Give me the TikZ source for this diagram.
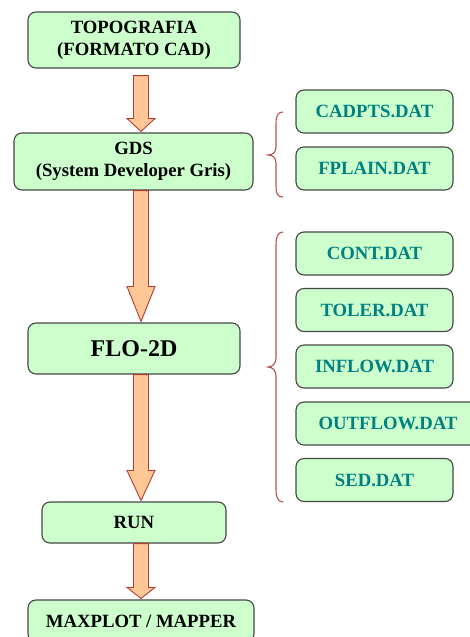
\documentclass[tikz,border=0pt]{standalone}
\usepackage{fontspec}
\setmainfont{Liberation Serif}
\usetikzlibrary{calc}
\definecolor{boxgreen}{RGB}{204,255,204}
\definecolor{boxedge}{RGB}{70,70,70}
\definecolor{arrfill}{RGB}{255,200,150}
\definecolor{arredge}{RGB}{178,60,50}
\definecolor{bracecol}{RGB}{180,80,80}
\definecolor{tealtxt}{RGB}{0,128,128}
\tikzset{
  gbox/.style={draw=boxedge, line width=1.1pt, fill=boxgreen, rounded corners=8pt,
    inner sep=0pt, align=center, font=\fontsize{18.7}{22}\selectfont\bfseries, text=black},
  fbox/.style={gbox, text=tealtxt, minimum width=157pt, minimum height=43pt},
  blockarr/.style={draw=arredge, line width=0.9pt, fill=arrfill, line join=miter},
  bracestyle/.style={draw=bracecol, line width=1.1pt}
}
\newcommand\blockarrow[4]{%
  \draw[blockarr] let \p1=(#1.south), \p2=(#2.north) in
    (133.5pt,{\y1-#4}) -- (133.5pt,{\y2+#3}) -- (127pt,{\y2+#3}) -- (141pt,{\y2+1pt})
    -- (155pt,{\y2+#3}) -- (148.5pt,{\y2+#3}) -- (148.5pt,{\y1-#4}) -- cycle;}
\begin{document}
\begin{tikzpicture}[x=1pt,y=-1pt]
\useasboundingbox (0,0) rectangle (469,637);
\node[gbox, minimum width=212pt, minimum height=56pt] (topo) at (134,40) {TOPOGRAFIA\\(FORMATO CAD)};
\node[gbox, minimum width=239pt, minimum height=57pt] (gds) at (133.5,161.5) {GDS\\(System Developer Gris)};
\node[gbox, minimum width=212pt, minimum height=51pt, font=\fontsize{24}{28}\selectfont\bfseries] (flo) at (134,348.5) {FLO-2D};
\node[gbox, minimum width=184pt, minimum height=41pt] (run) at (134,522.5) {RUN};
\node[gbox, minimum width=226pt, minimum height=42pt] (maxp) at (141,621) {MAXPLOT / MAPPER};

\blockarrow{topo}{gds}{14pt}{7pt}
\blockarrow{gds}{flo}{36pt}{0pt}
\blockarrow{flo}{run}{31pt}{0pt}
\blockarrow{run}{maxp}{12pt}{0pt}

\node[fbox] (cadpts) at (374.5,111.5) {CADPTS.DAT};
\node[fbox] (fplain) at (374.5,168.5) {FPLAIN.DAT};
\node[fbox] (cont) at (374.5,253.5) {CONT.DAT};
\node[fbox] (toler) at (374.5,310) {TOLER.DAT};
\node[fbox] (inflow) at (374.5,366.5) {INFLOW.DAT};
\node[fbox, minimum width=184pt] (outflow) at (388,423.5) {OUTFLOW.DAT};
\node[fbox] (sed) at (374.5,480) {SED.DAT};

\draw[bracestyle] (283,112) .. controls (277,112) and (276,117) .. (276,124)
  -- (276,147) .. controls (276,152) and (273,155) .. (268,155)
  .. controls (273,155) and (276,158) .. (276,163)
  -- (276,186) .. controls (276,193) and (277,197) .. (283,197);
\draw[bracestyle] (283,232) .. controls (277,232) and (276,238) .. (276,246)
  -- (276,358) .. controls (276,363) and (273,367) .. (268,367)
  .. controls (273,367) and (276,371) .. (276,376)
  -- (276,488) .. controls (276,496) and (277,502) .. (283,502);
\end{tikzpicture}
\end{document}
